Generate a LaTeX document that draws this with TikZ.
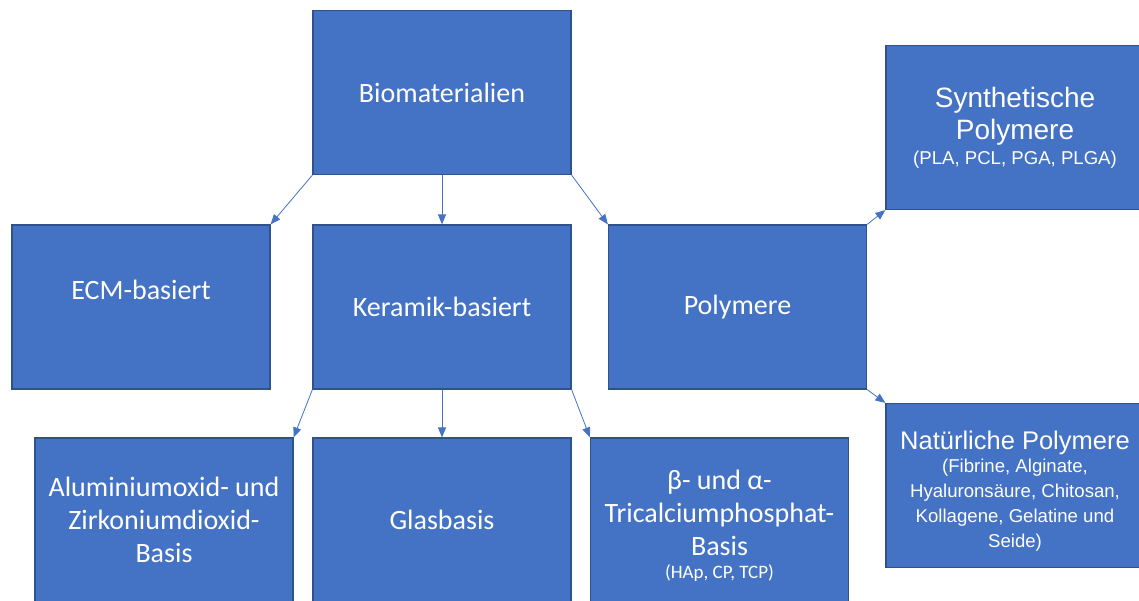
\documentclass[tikz,border=0pt]{standalone}
\usepackage{fontspec}
\setmainfont{Carlito}
\newfontfamily\arialfont{Liberation Sans}
\usetikzlibrary{arrows.meta,positioning}
\definecolor{boxblue}{HTML}{4472C4}
\definecolor{boxline}{HTML}{2F528F}
\newcommand\subsize{\fontsize{18.6}{23.5}\selectfont}
\newcommand\tcpsize{\fontsize{19}{22}\selectfont}

\begin{document}
\begin{tikzpicture}
    [
      x=1pt,y=-1pt,
      matbox/.style={draw=boxline,line width=1.2pt,fill=boxblue,text=white,minimum width=258pt,minimum height=164pt,inner sep=0pt,align=center,font=\fontsize{28}{33}\selectfont},
      polybox/.style={matbox,font=\arialfont\fontsize{28}{32}\selectfont},
      link/.style={-{Triangle[length=10pt,width=8pt]},draw=boxblue,line width=0.8pt},
    ]
    \useasboundingbox (0,0) rectangle (1139,601);

    \node (bio) [matbox] at (442,92.5) {Biomaterialien};
    \node (ecm) [matbox,text height=19pt,text depth=34pt] at (141,307) {ECM-basiert};
    \node (ker) [matbox] at (442,307) {Keramik-basiert};
    \node (poly) [matbox] at (737.5,307) {Polymere};
    \node (syn) [polybox] at (1015,127.5) {Synthetische\\Polymere\\[-7pt]\subsize(PLA, PCL, PGA, PLGA)};
    \node (nat) [polybox,font=\arialfont\fontsize{25.5}{25}\selectfont] at (1015,485.5)
      {\rule{0pt}{29pt}Natürliche Polymere\\[-2pt]\subsize(Fibrine, Alginate,\\\subsize Hyaluronsäure, Chitosan,\\\subsize Kollagene, Gelatine und\\\subsize Seide)};
    \node (alu) [matbox] at (164,520) {Aluminiumoxid- und\\Zirkoniumdioxid-\\Basis};
    \node (glas) [matbox] at (442,520) {Glasbasis};
    \node (tri) [matbox] at (719.5,520) {\rule{0pt}{31pt}β- und α-\\Tricalciumphosphat-\\Basis\\[-10pt]\tcpsize(HAp, CP, TCP)};

    \path
    (bio.south west) edge [link] (ecm.north east)
    (bio.south) edge [link] (ker.north)
    (bio.south east) edge [link] (poly.north west)

    (poly.north east) edge [link] (syn.south west)
    (poly.south east) edge [link] (nat.north west)

    (ker.south west) edge [link] (alu.north east)
    (ker.south) edge [link] (glas.north)
    (ker.south east) edge [link] (tri.north west)
    ;

\end{tikzpicture}
\end{document}
